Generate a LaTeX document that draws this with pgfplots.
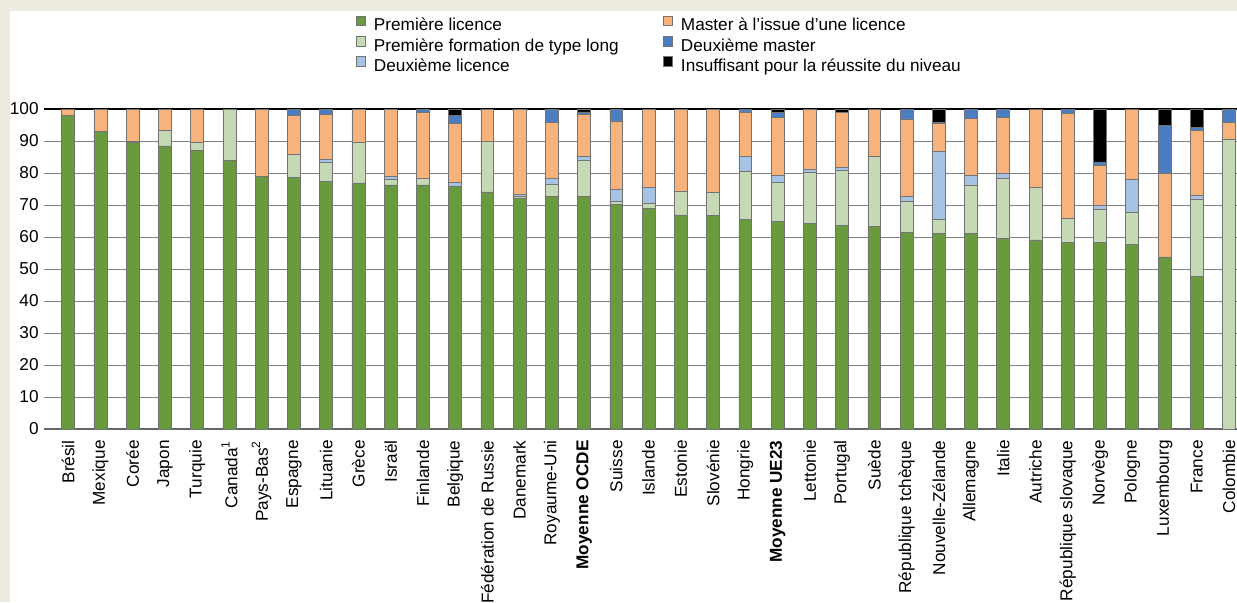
\documentclass[border=0pt]{standalone}
\usepackage{fontspec}
\setmainfont{Liberation Sans}
\usepackage{pgfplots}
\pgfplotsset{compat=1.18}
\usepackage{pgfplotstable}

\definecolor{cG}{HTML}{699A3E}
\definecolor{cLG}{HTML}{C5D9B4}
\definecolor{cLB}{HTML}{A7C3E3}
\definecolor{cO}{HTML}{F8B37C}
\definecolor{cDB}{HTML}{4A7DC1}
\definecolor{cBK}{HTML}{000000}
\definecolor{bgbeige}{HTML}{EDEAE0}

\pgfplotstableread{
i g lg lb o db bk
0 98 0 0 2 0 0
1 93 0 0 7 0 0
2 89.5 0.3 0 10.2 0 0
3 88.5 5 0 6.5 0 0
4 87 2.5 0 10.5 0 0
5 84 16 0 0 0 0
6 79 0 0 21 0 0
7 78.6 7.1 0 12.3 2 0
8 77.3 6.1 1 14 1.6 0
9 76.9 12.8 0 10.3 0 0
10 76.3 1.7 1.1 20.9 0 0
11 76.3 1.9 0 20.8 1 0
12 75.9 0 1.2 18.5 2.4 2.0
13 74.1 15.7 0 10.2 0 0
14 72.2 0.5 0.6 26.7 0 0
15 72.7 3.7 2.0 17.4 4.2 0
16 72.6 11.4 1.2 13.1 0.8 0.9
17 70.1 1.0 3.7 21.5 3.7 0
18 69.0 1.4 5.2 24.4 0 0
19 66.9 7.4 0 25.7 0 0
20 66.7 7.3 0 26.0 0 0
21 65.4 15.0 4.9 13.8 0.9 0
22 64.8 12.2 2.3 18.2 1.4 1.1
23 64.2 16.0 1.1 18.7 0 0
24 63.6 17.3 0.8 17.3 0 1.0
25 63.2 21.9 0 14.9 0 0
26 61.4 9.7 1.5 24.3 3.1 0
27 61.1 4.4 21.2 8.7 0.3 4.3
28 61.1 15.2 3.1 17.6 3.0 0
29 59.5 19.0 1.5 17.4 2.6 0
30 59.1 16.3 0 24.6 0 0
31 58.4 7.4 0 32.8 1.4 0
32 58.3 10.4 1.1 12.7 1.0 16.5
33 57.7 9.9 10.4 22.0 0 0
34 53.8 0 0 26.1 14.9 5.2
35 47.6 24.3 1.2 20.2 1.0 5.7
36 0 90.6 0 5.3 4.1 0
}\data

\begin{document}
\begin{tikzpicture}
\useasboundingbox (0,0) rectangle (618.5pt,-301pt);
\clip (0,0) rectangle (618.5pt,-301pt);
\fill[bgbeige] (0,0) rectangle (618.5pt,-301pt);
\fill[white] (5pt,-5.5pt) rectangle (618.5pt,-301pt);
\begin{axis}[
  at={(22pt,-214.5pt)}, anchor=south west,
  scale only axis, width=596.5pt, height=160pt,
  ybar stacked, bar width=0.4,
  xmin=-0.75, xmax=36.25, ymin=0, ymax=100,
  enlargelimits=false,
  axis x line*=bottom, axis y line*=left,
  y axis line style={draw=none},
  x axis line style={black!60, line width=0.6pt},
  ytick={0,10,...,100},
  ymajorgrids, grid style={black!50, line width=0.5pt},
  extra y ticks={100}, extra y tick labels={},
  extra y tick style={grid style={black, line width=0.6pt}},
  tick style={draw=none},
  xtick={0,...,36},
  xticklabels={Brésil,Mexique,Corée,Japon,Turquie,Canada\textsuperscript{1},Pays-Bas\textsuperscript{2},Espagne,Lituanie,Grèce,Israël,Finlande,Belgique,Fédération de Russie,Danemark,Royaume-Uni,\textbf{Moyenne OCDE},Suisse,Islande,Estonie,Slovénie,Hongrie,\textbf{Moyenne UE23},Lettonie,Portugal,Suède,République tchèque,Nouvelle-Zélande,Allemagne,Italie,Autriche,République slovaque,Norvège,Pologne,Luxembourg,France,Colombie},
  xticklabel style={rotate=90, anchor=east, inner sep=0pt, xshift=-5.5pt},
  yticklabel style={inner sep=0pt, xshift=-2.5pt},
  tick label style={font=\fontsize{8.6}{10}\selectfont},
  /pgf/number format/assume math mode=true,
  legend style={at={(0.2615,1.292)}, anchor=north west, draw=none, fill=none,
    inner sep=0pt, outer sep=0pt, column sep=4pt, row sep=0.75pt,
    font=\fontsize{8.6}{10}\selectfont,
    nodes={inner sep=0pt, text height=6.3pt, text depth=1.8pt}},
  legend cell align=left,
  legend columns=3, transpose legend,
  legend image code/.code={\draw[#1] (0pt,0.3pt) rectangle (4.7pt,5.2pt);},
]
\addplot[fill=cG, draw=black!55, line width=0.3pt] table[x=i,y=g]{\data};
\addlegendentry{\makebox[140.5pt][l]{Première licence}}
\addplot[fill=cLG, draw=black!55, line width=0.3pt] table[x=i,y=lg]{\data};
\addlegendentry{\makebox[140.5pt][l]{Première formation de type long}}
\addplot[fill=cLB, draw=black!55, line width=0.3pt] table[x=i,y=lb]{\data};
\addlegendentry{\makebox[140.5pt][l]{Deuxième licence}}
\addplot[fill=cO, draw=black!55, line width=0.3pt] table[x=i,y=o]{\data};
\addlegendentry{Master à l’issue d'une licence}
\addplot[fill=cDB, draw=black!55, line width=0.3pt] table[x=i,y=db]{\data};
\addlegendentry{Deuxième master}
\addplot[fill=cBK, draw=black!55, line width=0.3pt] table[x=i,y=bk]{\data};
\addlegendentry{Insuffisant pour la réussite du niveau}
\node[font=\fontsize{8.6}{10}\selectfont] at (rel axis cs:-0.0159,1.081) {\%};
\end{axis}
\end{tikzpicture}
\end{document}
